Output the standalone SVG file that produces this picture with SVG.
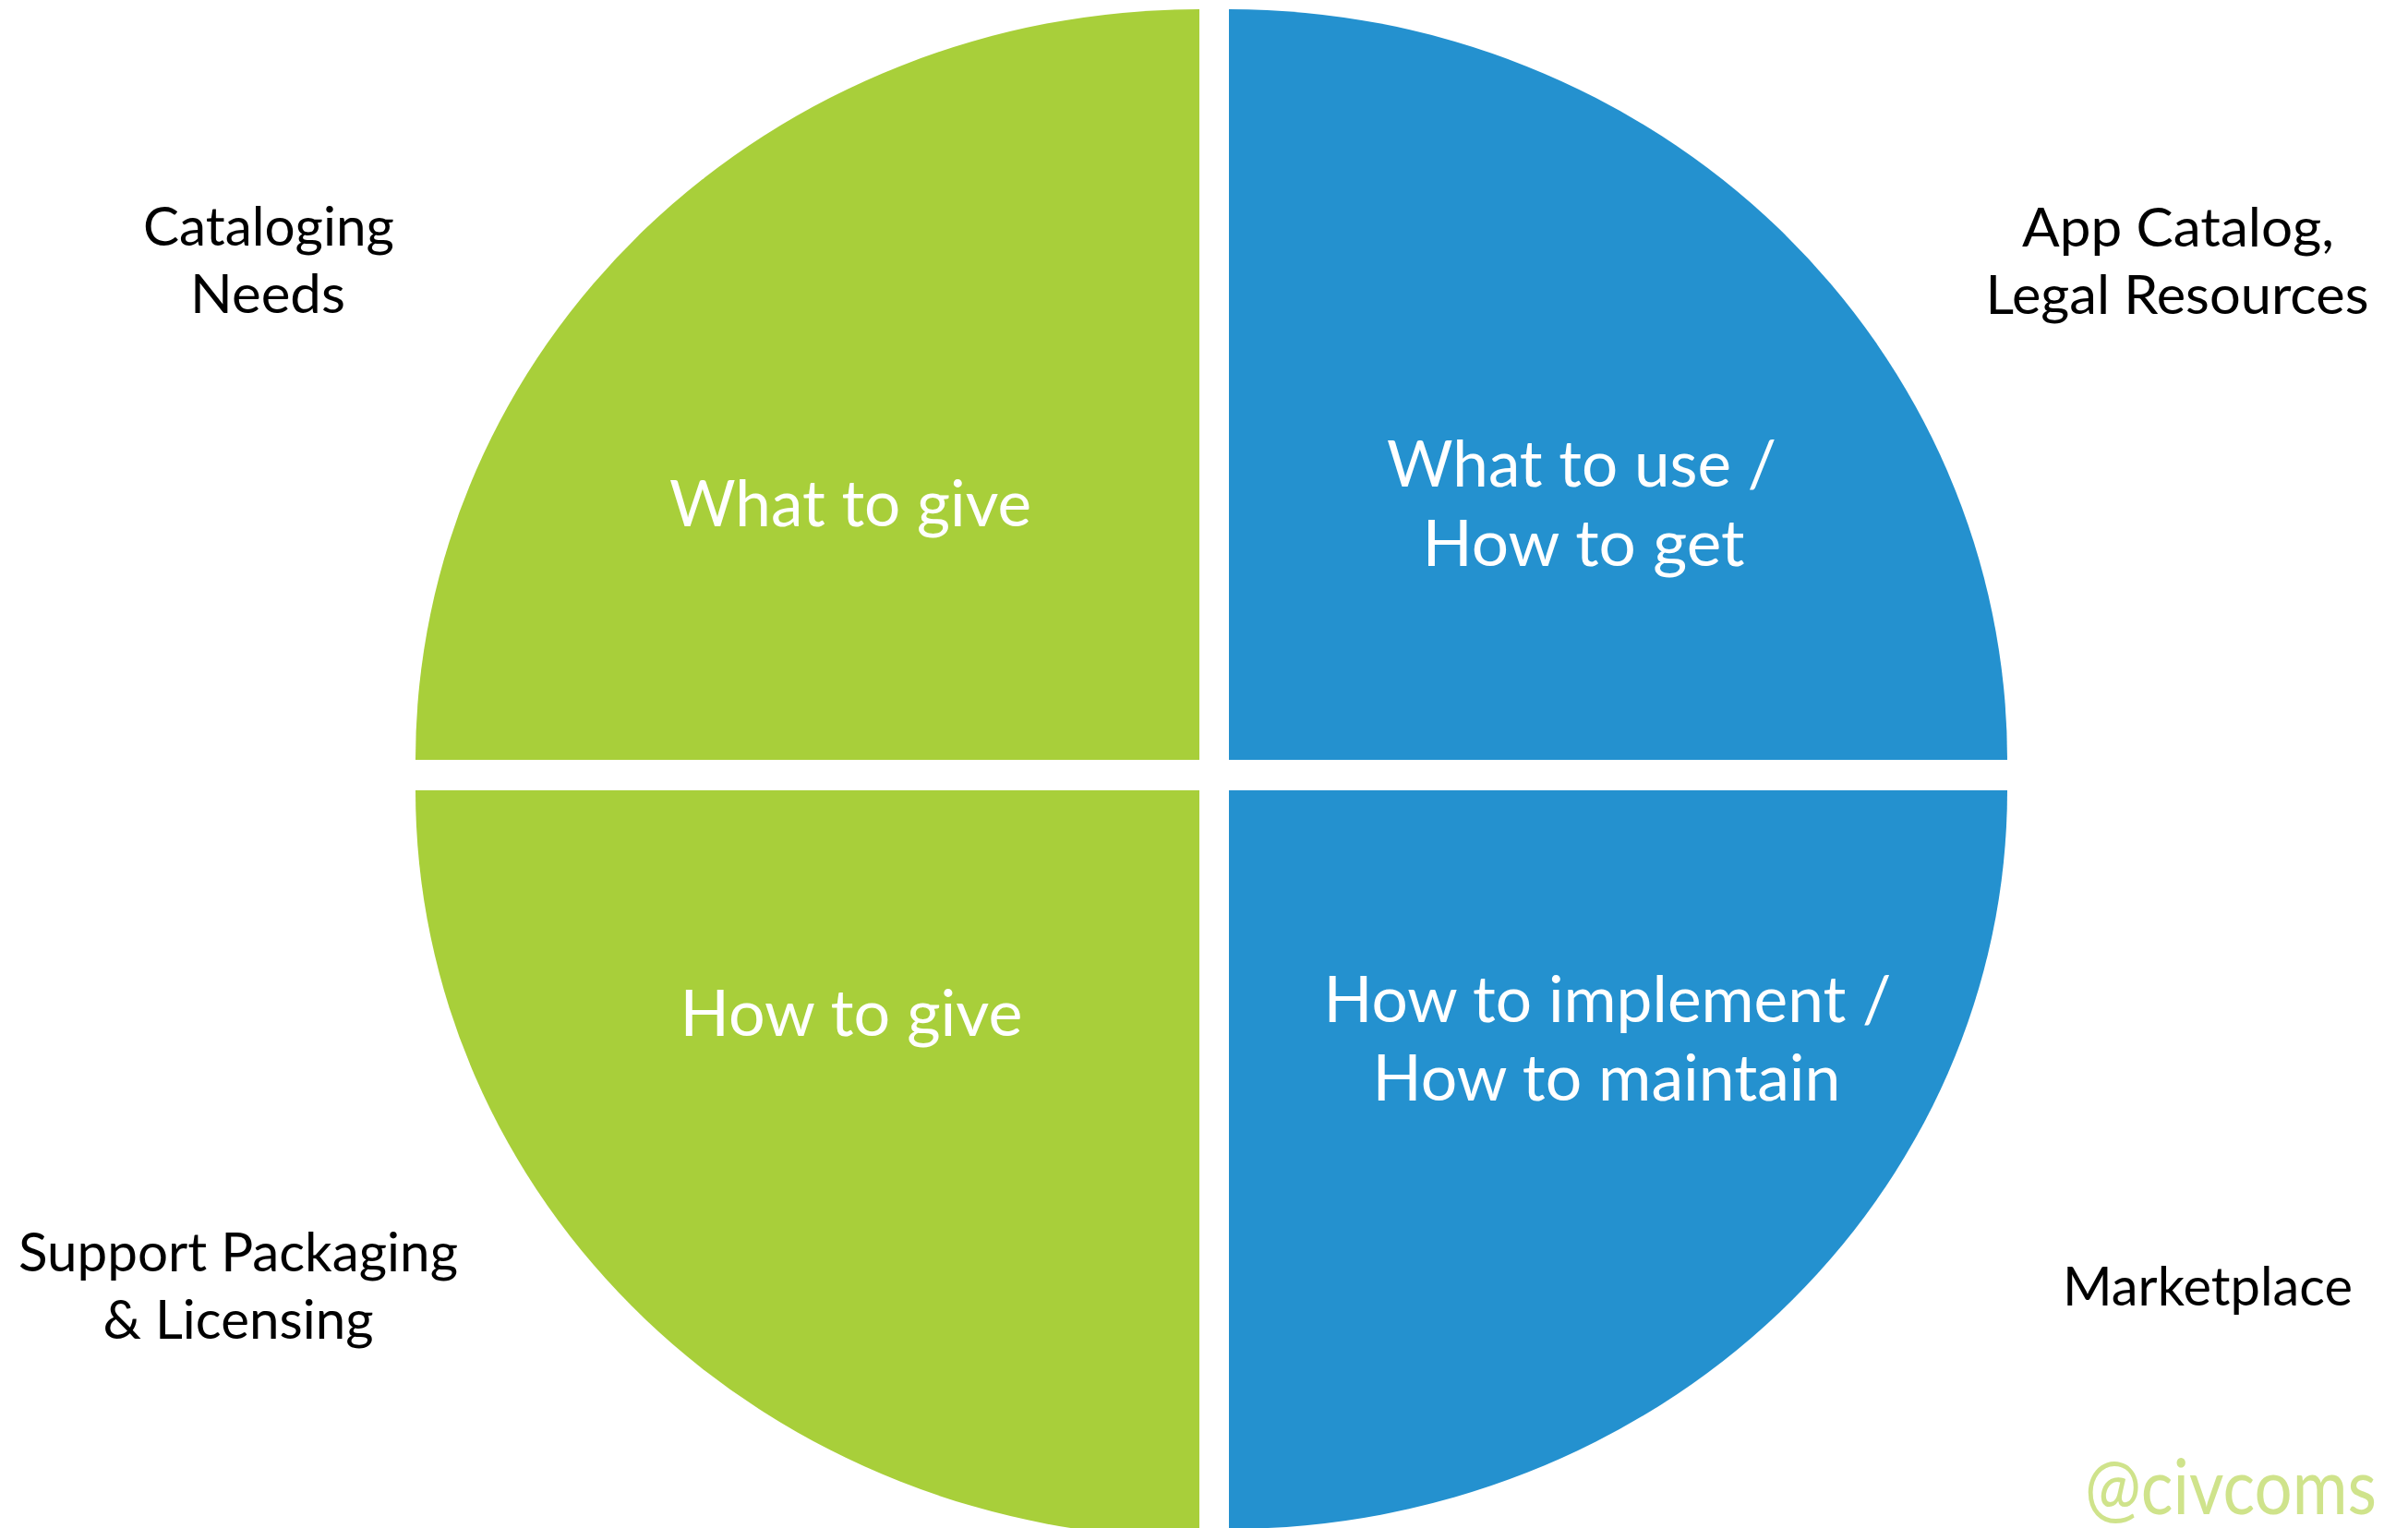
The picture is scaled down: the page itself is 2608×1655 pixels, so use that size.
<svg xmlns="http://www.w3.org/2000/svg" width="2608" height="1655" viewBox="0 0 2608 1655">
<style>
.green{fill:#A8CF3A}
.blue{fill:#2491CF}
.inner{font-family:Lato,"Open Sans","Liberation Sans",sans-serif;font-size:70px;fill:#FFFFFF;text-anchor:middle}
.outer{font-family:Lato,"Open Sans","Liberation Sans",sans-serif;font-size:58px;fill:#000000;text-anchor:middle}
.tag{font-family:Lato,"Open Sans",sans-serif;font-size:84px;fill:#CFE38B;text-anchor:middle}
</style>
<rect width="2608" height="1655" fill="#FFFFFF"/>
<g id="what-to-give">
<path class="green" d="M1299,823 L450,823 A849,813 0 0 1 1299,10 Z"/>
<text class="inner" x="921" y="570" textLength="392" lengthAdjust="spacingAndGlyphs">What to give</text>
</g>
<g id="what-to-use">
<path class="blue" d="M1331,823 L1331,10 A843,813 0 0 1 2174,823 Z"/>
<text class="inner" x="1713" y="527" textLength="422" lengthAdjust="spacingAndGlyphs">What to use /</text>
<text class="inner" x="1715" y="613" textLength="349" lengthAdjust="spacingAndGlyphs">How to get</text>
</g>
<g id="how-to-give">
<path class="green" d="M1299,856 L1299,1666 A849,810 0 0 1 450,856 Z"/>
<text class="inner" x="922" y="1122" textLength="371" lengthAdjust="spacingAndGlyphs">How to give</text>
</g>
<g id="how-to-implement">
<path class="blue" d="M1331,856 L2174,856 A843,800 0 0 1 1331,1656 Z"/>
<text class="inner" x="1741" y="1107" textLength="615" lengthAdjust="spacingAndGlyphs">How to implement /</text>
<text class="inner" x="1740" y="1192" textLength="507" lengthAdjust="spacingAndGlyphs">How to maintain</text>
</g>
<g id="label-cataloging">
<text class="outer" x="291" y="266" textLength="272" lengthAdjust="spacingAndGlyphs">Cataloging</text>
<text class="outer" x="290" y="339" textLength="168" lengthAdjust="spacingAndGlyphs">Needs</text>
</g>
<g id="label-app-catalog">
<text class="outer" x="2359" y="267" textLength="338" lengthAdjust="spacingAndGlyphs">App Catalog,</text>
<text class="outer" x="2358" y="340" textLength="415" lengthAdjust="spacingAndGlyphs">Legal Resources</text>
</g>
<g id="label-support">
<text class="outer" x="258" y="1377" textLength="476" lengthAdjust="spacingAndGlyphs">Support Packaging</text>
<text class="outer" x="258" y="1450" textLength="293" lengthAdjust="spacingAndGlyphs">&amp; Licensing</text>
</g>
<g id="label-marketplace">
<text class="outer" x="2391" y="1414" textLength="314" lengthAdjust="spacingAndGlyphs">Marketplace</text>
</g>
<g id="connectors"/>
<g id="watermark">
<text class="tag" x="2416" y="1640" textLength="316" lengthAdjust="spacingAndGlyphs">@civcoms</text>
</g>
</svg>
